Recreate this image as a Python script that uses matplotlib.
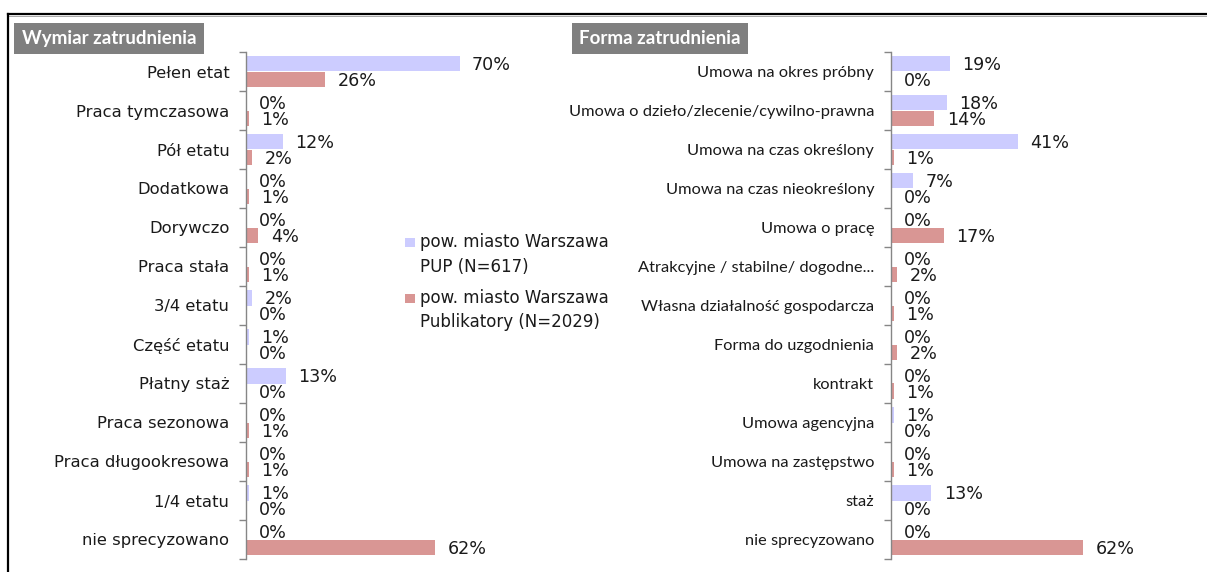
import numpy as np
import matplotlib.pyplot as plt
from matplotlib.patches import Rectangle
from matplotlib.lines import Line2D

# ---- data ----
wymiar_cats = ["Pełen etat", "Praca tymczasowa", "Pół etatu", "Dodatkowa", "Dorywczo",
               "Praca stała", "3/4 etatu", "Część etatu", "Płatny staż", "Praca sezonowa",
               "Praca długookresowa", "1/4 etatu", "nie sprecyzowano"]
wymiar_pup = [70, 0, 12, 0, 0, 0, 2, 1, 13, 0, 0, 1, 0]
wymiar_pub = [26, 1, 2, 1, 4, 1, 0, 0, 0, 1, 1, 0, 62]

forma_cats = ["Umowa na okres próbny", "Umowa o dzieło/zlecenie/cywilno-prawna",
              "Umowa na czas określony", "Umowa na czas nieokreślony", "Umowa o pracę",
              "Atrakcyjne / stabilne/ dogodne...", "Własna działalność gospodarcza",
              "Forma do uzgodnienia", "kontrakt", "Umowa agencyjna", "Umowa na zastępstwo",
              "staż", "nie sprecyzowano"]
forma_pup = [19, 18, 41, 7, 0, 0, 0, 0, 0, 1, 0, 13, 0]
forma_pub = [0, 14, 1, 0, 17, 2, 1, 2, 1, 0, 1, 0, 62]

series_labels = [["pow. miasto Warszawa", "PUP (N=617)"],
                 ["pow. miasto Warszawa", "Publikatory (N=2029)"]]
panel_titles = ["Wymiar zatrudnienia", "Forma zatrudnienia"]

BLUE = "#CCCCFF"
RED = "#D99694"
GREY_AX = "#868686"
TXT = "#1a1a1a"
W, H = 1207, 572

fig = plt.figure(figsize=(W / 100, H / 100), dpi=100)
fig.patch.set_facecolor("white")


def fx(px):
    return px / W


def fy(py):
    return 1 - py / H


def panel(ax, cats, pup, pub, px_per_pct, width_px, label_font):
    n = len(cats)
    y = np.arange(n)
    ax.barh(y - 0.2, pup, height=0.4, color=BLUE, edgecolor="none")
    ax.barh(y + 0.2, pub, height=0.4, color=RED, edgecolor="none")
    for offs, vals in ((-0.2, pup), (0.2, pub)):
        for yy, v in zip(y + offs, vals):
            ax.annotate(f"{v}%", xy=(v, yy), xytext=(9, -1), textcoords="offset points",
                        ha="left", va="center", fontsize=12.6, color=TXT,
                        family="DejaVu Sans")
    ax.set_xlim(0, width_px / px_per_pct)
    ax.set_ylim(n - 0.5, -0.5)
    ax.set_yticks(y)
    ax.set_yticklabels(cats, **label_font)
    ax.tick_params(axis="y", which="major", length=0, pad=12)
    ax.set_yticks(np.arange(-0.5, n), minor=True)
    ax.tick_params(axis="y", which="minor", length=5, width=1, color=GREY_AX)
    ax.xaxis.set_visible(False)
    for s in ("top", "right", "bottom"):
        ax.spines[s].set_visible(False)
    ax.spines["left"].set_color(GREY_AX)
    ax.spines["left"].set_linewidth(1)
    ax.set_facecolor("none")


top_px, bot_px = 52, 559
axL = fig.add_axes([fx(246), fy(bot_px), 310 / W, (bot_px - top_px) / H])
axR = fig.add_axes([fx(891), fy(bot_px), 300 / W, (bot_px - top_px) / H])

panel(axL, wymiar_cats, wymiar_pup, wymiar_pub, 3.05, 310,
      dict(family="DejaVu Sans", fontsize=11.8, color=TXT))
panel(axR, forma_cats, forma_pup, forma_pub, 3.1, 300,
      dict(family="Lato", fontsize=11.8, color=TXT))

# panel headers (white text on grey boxes)
for (x0, x1), title in zip([(14, 204), (572, 748)], panel_titles):
    fig.patches.append(Rectangle((fx(x0), fy(54)), (x1 - x0) / W, 31 / H,
                                 transform=fig.transFigure, facecolor="#7F7F7F",
                                 edgecolor="none", zorder=1))
    fig.text(fx((x0 + x1) / 2), fy(38.5), title, ha="center", va="center",
             color="white", fontsize=13.5, fontweight="bold", family="Lato", zorder=2)

# legend
for (sq_y, line_ys), color, lines in zip([(242, (242, 267)), (298, (298, 322))],
                                         [BLUE, RED], series_labels):
    fig.patches.append(Rectangle((fx(405), fy(sq_y + 4.5)), 10 / W, 9 / H,
                                 transform=fig.transFigure, facecolor=color,
                                 edgecolor="none"))
    for ly, txt in zip(line_ys, lines):
        fig.text(fx(420), fy(ly), txt, ha="left", va="center", fontsize=12,
                 color=TXT, family="DejaVu Sans")

# outer frame
fig.add_artist(Line2D([fx(8), 1], [fy(14), fy(14)], color="black", lw=1.6,
                      transform=fig.transFigure))
fig.add_artist(Line2D([fx(8), 1], [fy(16.3), fy(16.3)], color="#9a9a9a", lw=0.6,
                      transform=fig.transFigure))
fig.add_artist(Line2D([fx(8), fx(8)], [fy(14), 0], color="black", lw=1.6,
                      transform=fig.transFigure))

fig.savefig("out.png", dpi=100, facecolor="white")
